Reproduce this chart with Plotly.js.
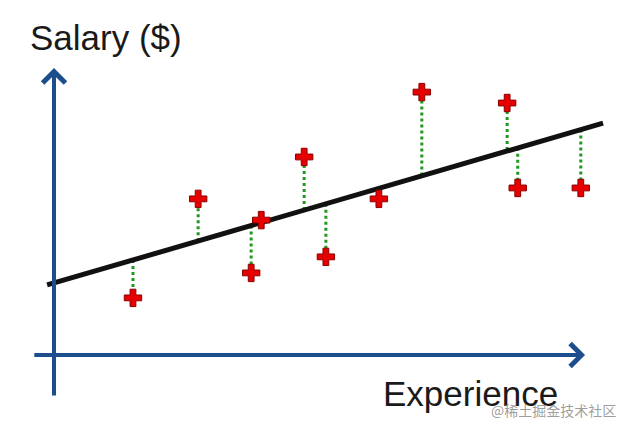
<!DOCTYPE html>
<html>
<head>
<meta charset="utf-8">
<script src="https://cdn.plot.ly/plotly-3.0.1.min.js"></script>
<style>html,body{margin:0;padding:0;background:#fff}#chart{width:623px;height:430px}</style>
</head>
<body>
<div id="chart"></div>
<script>
// Data (experience in years-like units, salary in arbitrary units)
const experience = [1.49, 2.72, 3.72, 3.91, 4.72, 5.13, 6.13, 6.94, 8.55, 8.75, 9.94];
const salary     = [1.99, 5.44, 2.86, 4.70, 6.90, 3.42, 5.44, 9.16, 8.78, 5.82, 5.82];
const fitted     = [3.31, 3.96, 4.51, 4.61, 5.05, 5.27, 5.81, 6.25, 7.14, 7.22, 7.86];
const lineX = [-0.13, 10.36];
const lineY = [2.44, 8.08];
const axisXLabel = "Experience";
const axisYLabel = "Salary ($)";
const watermark = "@稀土掘金技术社区";

const rx = [], ry = [];
for (let i = 0; i < experience.length; i++) {
  rx.push(experience[i], experience[i], null);
  ry.push(fitted[i], salary[i], null);
}

const traces = [
  {x: rx, y: ry, mode: 'lines', line: {color: '#1f9a1f', width: 3, dash: 'dot'}, hoverinfo: 'skip'},
  {x: lineX, y: lineY, mode: 'lines', line: {color: '#111111', width: 5}, hoverinfo: 'skip'},
  {x: experience, y: salary, mode: 'markers',
   marker: {symbol: 'cross', size: 14.5, color: '#e60000', line: {color: '#8a0000', width: 1}}}
];

const blue = '#1c4d8c';
const layout = {
  width: 623, height: 430,
  margin: {l: 0, r: 0, t: 0, b: 0},
  paper_bgcolor: '#ffffff', plot_bgcolor: '#ffffff',
  showlegend: false,
  xaxis: {range: [-1.019, 10.736], visible: false, fixedrange: true},
  yaxis: {range: [-2.613, 12.369], visible: false, fixedrange: true},
  annotations: [
    {x: 0, y: 10.0, ax: 0, ay: -1.46, xref: 'x', yref: 'y', axref: 'x', ayref: 'y',
     text: '', showarrow: true, arrowhead: 4, arrowsize: 1.1, arrowwidth: 4, arrowcolor: blue, standoff: 0},
    {x: 10.02, y: 0, ax: -0.40, ay: 0, xref: 'x', yref: 'y', axref: 'x', ayref: 'y',
     text: '', showarrow: true, arrowhead: 4, arrowsize: 1.1, arrowwidth: 4, arrowcolor: blue, standoff: 0},
    {x: 106/623, y: 1 - 37/430, xref: 'paper', yref: 'paper', xanchor: 'center', yanchor: 'middle',
     text: axisYLabel, showarrow: false, font: {family: 'Liberation Sans, Arial, sans-serif', size: 35, color: '#1a1a1a'}},
    {x: 470/623, y: 1 - 393/430, xref: 'paper', yref: 'paper', xanchor: 'center', yanchor: 'middle',
     text: axisXLabel, showarrow: false, font: {family: 'Liberation Sans, Arial, sans-serif', size: 35, color: '#1a1a1a'}},
    {x: 553/623, y: 1 - 410/430, xref: 'paper', yref: 'paper', xanchor: 'center', yanchor: 'middle',
     text: watermark, showarrow: false, font: {family: 'Noto Sans CJK SC, sans-serif', size: 14, color: 'rgba(140,140,140,0.85)'}}
  ]
};

Plotly.newPlot('chart', traces, layout, {displayModeBar: false, staticPlot: true});
</script>
</body>
</html>
